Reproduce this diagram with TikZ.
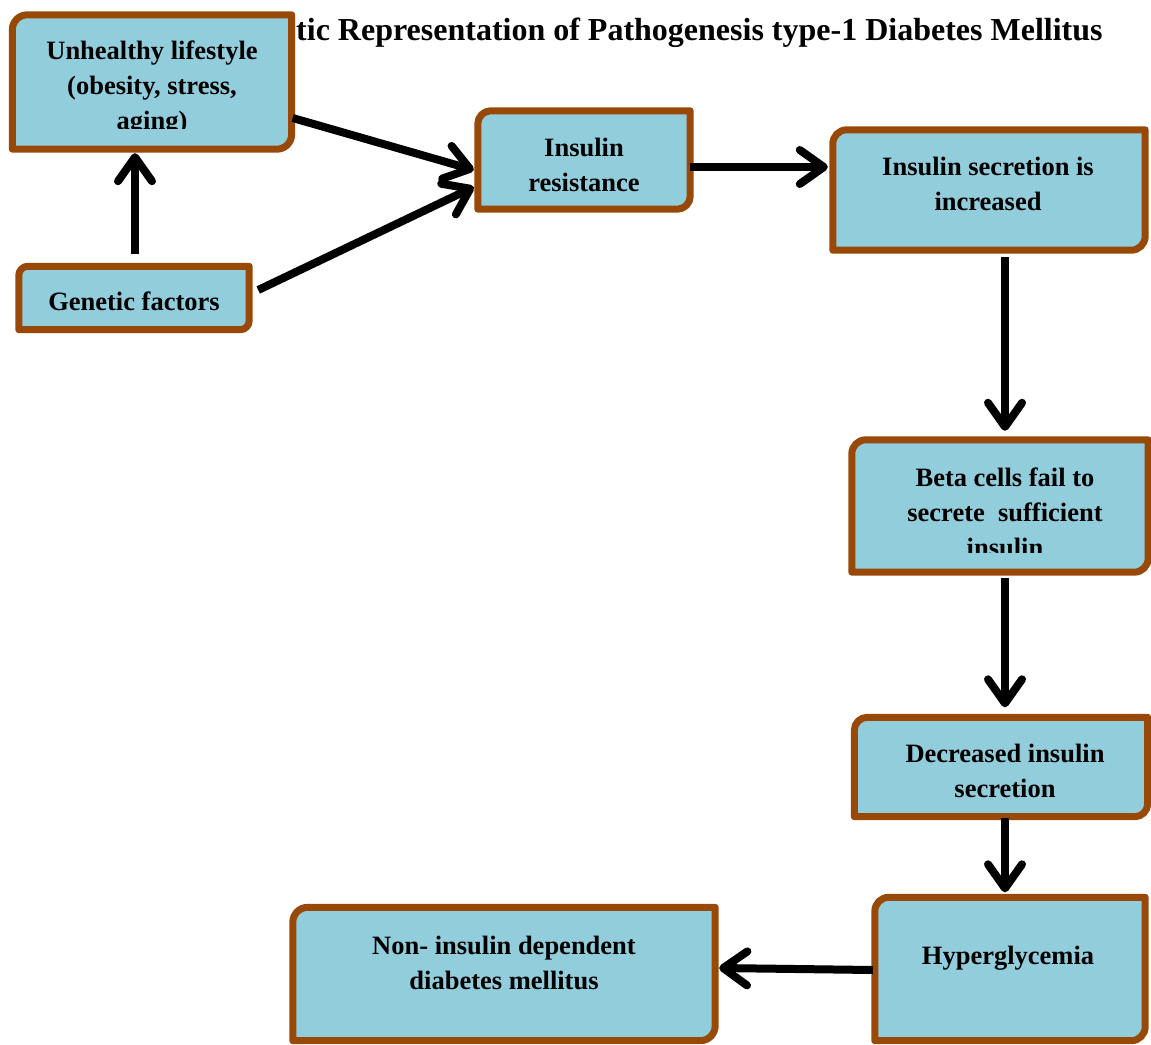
\documentclass[tikz,border=0pt]{standalone}
\usepackage{fontspec}
\setmainfont{Liberation Serif}
\usetikzlibrary{arrows.meta,shadows,calc}
\definecolor{boxfill}{HTML}{92CDDC}
\definecolor{boxline}{HTML}{984807}

\begin{document}
\begin{tikzpicture}[x=1pt, y=1pt,
    box/.style={rectangle, inner sep=0pt},
    cadre/.style={draw=boxline, fill=boxfill, line width=7pt, line join=round,
        drop shadow={opacity=0.25, shadow xshift=2pt, shadow yshift=-3pt}},
    texte/.style={font=\bfseries\fontsize{26.5}{35}\selectfont, align=center, inner sep=0pt},
    fleche/.style={line width=8pt, -{Straight Barb[round, length=24pt, width=34pt]}}]

\useasboundingbox (0,0) rectangle (1151,-1044);

% Titre
\node[anchor=base west, inner sep=0pt, font=\bfseries\fontsize{32}{36}\selectfont] (titre) at (296,-40)
    {tic Representation of Pathogenesis type-1 Diabetes Mellitus};

% Boîtes (nom/x/y/largeur/hauteur/rayon)
\foreach \nom/\x/\y/\w/\h/\r in {lifestyle/152/82/279/134/15, insres/584/160/212/98/13,
        incsec/989/190/312/120/14, betafail/1000/506/296/132/14, decsec/1001/767/293/99/13,
        hyper/1010/969/270/143/14, nidd/504/974/422/133/15, genetic/134/298/230/63/9} {
    \node[box, minimum width=\w pt, minimum height=\h pt] (\nom) at (\x,-\y) {};
    \draw[cadre] (\nom.north east) -- ([yshift=\r pt]\nom.south east)
        arc[start angle=0, end angle=-90, radius=\r pt] -- (\nom.south west)
        -- ([yshift=-\r pt]\nom.north west) arc[start angle=180, end angle=90, radius=\r pt] -- cycle;
}

% Textes
\begin{scope}
    \clip (16,-18) rectangle (289,-128);
    \node[texte] (lifestyle-t) at (152,-88) {Unhealthy lifestyle\\(obesity, stress,\\aging)};
\end{scope}
\node[texte] (insres-t) at (584,-165) {Insulin\\resistance};
\node[texte] (incsec-t) at (988,-184) {Insulin secretion is\\increased};
\begin{scope}
    \clip (855,-443) rectangle (1145,-552);
    \node[texte] (betafail-t) at (1005,-512) {Beta cells fail to\\secrete~ sufficient\\insulin};
\end{scope}
\node[texte] (decsec-t) at (1005,-771) {Decreased insulin\\secretion};
\node[texte] (hyper-t) at (1008,-958) {Hyperglycemia};
\node[texte] (nidd-t) at (504,-963) {Non- insulin dependent\\diabetes mellitus};
\node[texte] (genetic-t) at (134,-301) {Genetic factors};

% Flèches
\draw[fleche] ($(lifestyle.east)+(1,-36)$) -- ($(insres.west)+(-4,-10)$);
\draw[fleche] ($(genetic.east)+(9,8)$) -- ($(insres.west)+(-4,-27)$);
\draw[fleche] ($(genetic.north)+(1,12)$) -- ($(genetic.north |- lifestyle.south)+(1,-4)$);
\draw[fleche] ($(insres.east)+(0,-7)$) -- ($(insres.east -| incsec.west)+(-5,-7)$);
\draw[fleche] ($(incsec.south)+(16,-7)$) -- ($(betafail.north)+(5,9)$);
\draw[fleche] ($(betafail.south)+(5,-6)$) -- ($(decsec.north)+(4,10)$);
\draw[fleche] ($(decsec.south)+(4,-1)$) -- ($(hyper.north)+(-5,5)$);
\draw[fleche] ($(hyper.west)+(-2,-1)$) -- ($(nidd.east)+(4,6)$);

\end{tikzpicture}
\end{document}
